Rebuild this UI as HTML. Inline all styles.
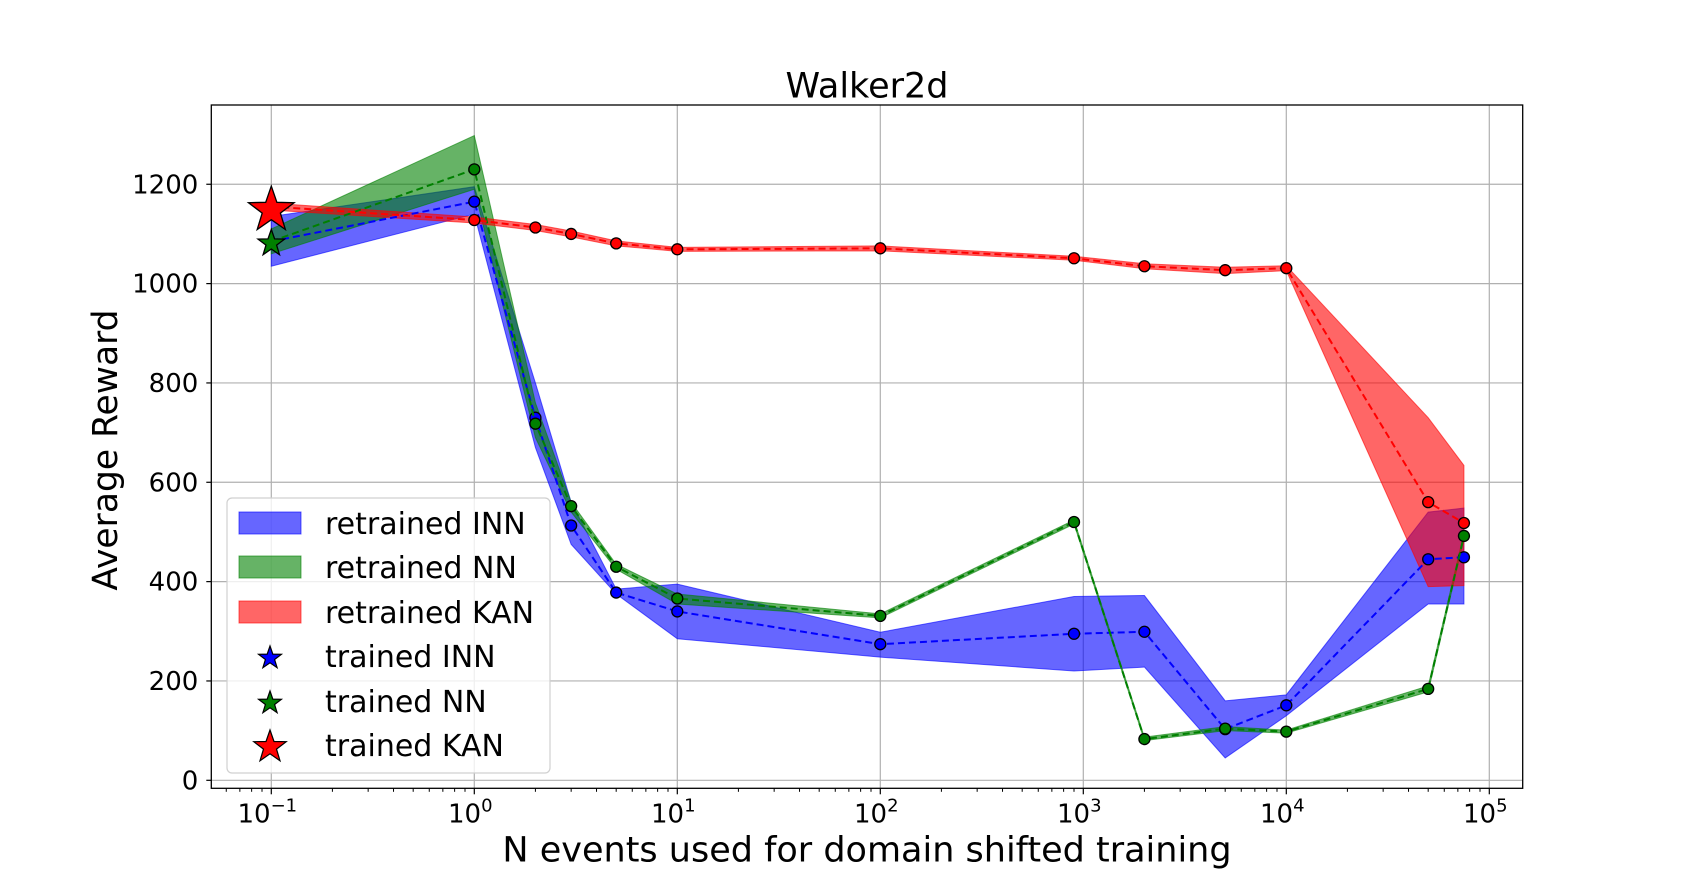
<!DOCTYPE html>
<html><head><meta charset="utf-8"><style>
html,body{margin:0;padding:0;background:#fff}
svg{display:block;font-family:"DejaVu Sans","Liberation Sans",sans-serif}
</style></head><body>
<svg id="chart" width="1691" height="886" viewBox="0 0 1691 886" xmlns="http://www.w3.org/2000/svg">
<rect width="1691" height="886" fill="#fff"/>
<g id="grid"></g>
<g id="bands"></g>
<g id="lines"></g>
<g id="stars"></g>
<g id="axes"></g>
<g id="legend"></g>
</svg>
<script>
const xs = [0.1, 1, 2, 3, 5, 10, 100, 900, 2000, 5000, 10000, 50000, 75000];
const kanMean = [1155, 1128, 1113, 1100, 1081, 1069, 1071, 1051, 1035, 1027, 1031, 560, 518];
const kanLo   = [1148, 1122, 1107, 1094, 1076, 1065, 1066, 1047, 1030, 1020, 1026, 390, 392];
const kanHi   = [1162, 1134, 1119, 1106, 1086, 1073, 1076, 1055, 1040, 1033, 1036, 730, 634];
const innMean = [1085, 1165, 730, 513, 378, 340, 274, 295, 299, 103, 151, 445, 449];
const innLo   = [1035, 1140, 670, 475, 375, 285, 248, 220, 228, 45, 130, 355, 355];
const innHi   = [1135, 1195, 800, 560, 385, 395, 298, 370, 372, 160, 172, 540, 548];
const nnMean  = [1085, 1230, 718, 552, 430, 366, 331, 520, 83, 104, 98, 184, 492];
const nnLo    = [1060, 1190, 690, 540, 425, 355, 327, 516, 80, 100, 95, 178, 486];
const nnHi    = [1110, 1298, 760, 560, 435, 375, 335, 524, 87, 108, 101, 190, 498];
const starVals = [1085, 1085, 1152];
const yTicks = [0, 200, 400, 600, 800, 1000, 1200];
const xTickExps = [-1, 0, 1, 2, 3, 4, 5];

const L=211.3, R=1522.7, T=105, B=788.3;
const X = v => 271.3 + (Math.log10(v) + 1) * 203;
const Y = v => 780.3 - v * 0.4967;
const NS="http://www.w3.org/2000/svg";
function mk(tag, attrs, parent){const e=document.createElementNS(NS,tag);for(const k in attrs)e.setAttribute(k,attrs[k]);parent.appendChild(e);return e;}
const grid=document.getElementById('grid'), axes=document.getElementById('axes');
const bands=document.getElementById('bands'), lines=document.getElementById('lines');
const stars=document.getElementById('stars'), legend=document.getElementById('legend');

yTicks.forEach(t=>{
  const y=Y(t);
  const g=mk('line',{x1:L,x2:R,y1:y,y2:y,stroke:'#b0b0b0','stroke-width':1.2},grid);
  
  
  mk('line',{x1:L-5,x2:L,y1:y,y2:y,stroke:'#000','stroke-width':1.2},axes);
  const tx=mk('text',{x:L-13,y:y+9,'text-anchor':'end','font-size':26},axes);
  tx.textContent=t;
  
  
});
xTickExps.forEach(e=>{
  const x=X(Math.pow(10,e));
  const g=mk('line',{x1:x,x2:x,y1:T,y2:B,stroke:'#b0b0b0','stroke-width':1.2},grid);
  
  
  mk('line',{x1:x,x2:x,y1:B,y2:B+6,stroke:'#000','stroke-width':1.2},axes);
  const tx=mk('text',{x:x-4,y:B+34,'text-anchor':'middle','font-size':26},axes);
  tx.textContent='10';
  const sp=mk('tspan',{dy:-11,'font-size':18},tx);
  sp.textContent=(e<0?'\u2212':'')+Math.abs(e);
  
  
});
for(let e=-2;e<=5;e++){for(let m=2;m<=9;m++){const v=m*Math.pow(10,e);const x=X(v);if(x>L&&x<R)mk('line',{x1:x,x2:x,y1:B,y2:B+3.5,stroke:'#000','stroke-width':1},axes);}}

function band(lo,hi,color,name){
  let d='M'+xs.map((x,i)=>X(x)+','+Y(hi[i])).join('L');
  d+='L'+xs.map((x,i)=>X(x)+','+Y(lo[i])).reverse().join('L')+'Z';
  const p=mk('path',{d:d,fill:color,'fill-opacity':0.6,stroke:color,'stroke-opacity':0.6,'stroke-width':1},bands);
  
  
}
function series(mean,color,name,start){
  const pts=xs.map((x,i)=>X(x)+','+Y(mean[i]));
  const l=mk('polyline',{points:pts.join(' '),fill:'none',stroke:color,'stroke-width':2,'stroke-dasharray':'7,4'},lines);
  
  
  xs.forEach((x,i)=>{ if(i<start) return;
    const c=mk('circle',{cx:X(x),cy:Y(mean[i]),r:5.5,fill:color,stroke:'#000','stroke-width':1.3},lines);
    
    
  });
}
band(innLo,innHi,'#0000ff','inn-band');
band(nnLo,nnHi,'#008000','nn-band');
band(kanLo,kanHi,'#ff0000','kan-band');
series(innMean,'#0000ff','inn',1);
series(nnMean,'#008000','nn',1);
series(kanMean,'#ff0000','kan',1);

function starPath(cx,cy,r){let p=[];for(let i=0;i<10;i++){const rr=i%2?r*0.4:r;const a=-Math.PI/2+i*Math.PI/5;p.push((cx+rr*Math.cos(a)).toFixed(1)+','+(cy+rr*Math.sin(a)).toFixed(1));}return 'M'+p.join('L')+'Z';}
const starColors=['#0000ff','#008000','#ff0000'], starSizes=[12,14,24], starNames=['trained-inn-star','trained-nn-star','trained-kan-star'];
starVals.forEach((v,i)=>{
  const s=mk('path',{d:starPath(X(0.1),Y(v)+2,starSizes[i]),fill:starColors[i],stroke:'#000','stroke-width':1.3},stars);
  
  
});

mk('rect',{x:L,y:T,width:R-L,height:B-T,fill:'none',stroke:'#000','stroke-width':1.3},axes);

const lb=mk('rect',{x:227,y:498,width:323,height:275,rx:5,fill:'#fff','fill-opacity':0.8,stroke:'#d0d0d0','stroke-width':1.2},legend);


const legLabels=['retrained INN','retrained NN','retrained KAN','trained INN','trained NN','trained KAN'];
const legY=[523,567,612,656,701,745];
legLabels.forEach((lab,i)=>{
  const c=starColors[i%3];
  const g=mk('g',{},legend);
  
  
  if(i<3){mk('rect',{x:239,y:legY[i]-11,width:62,height:22,fill:c,'fill-opacity':0.6,stroke:c,'stroke-opacity':0.6},g);}
  else{mk('path',{d:starPath(270,legY[i]+2,[12,12,17][i-3]),fill:c,stroke:'#000','stroke-width':1.2},g);}
  const t=mk('text',{x:325,y:legY[i]+11,'font-size':30},g);
  t.textContent=lab;
});
</script>
<div style="position:absolute;left:106px;top:450px;transform:translate(-50%,-50%) rotate(-90deg);font-family:'DejaVu Sans','Liberation Sans',sans-serif;font-size:34.5px;white-space:nowrap;line-height:1">Average Reward</div>
<div style="position:absolute;left:867px;top:851px;transform:translate(-50%,-50%);font-family:'DejaVu Sans','Liberation Sans',sans-serif;font-size:35px;white-space:nowrap;line-height:1">N events used for domain shifted training</div>
<div style="position:absolute;left:867px;top:87px;transform:translate(-50%,-50%);font-family:'DejaVu Sans','Liberation Sans',sans-serif;font-size:35px;white-space:nowrap;line-height:1">Walker2d</div>
</body></html>
